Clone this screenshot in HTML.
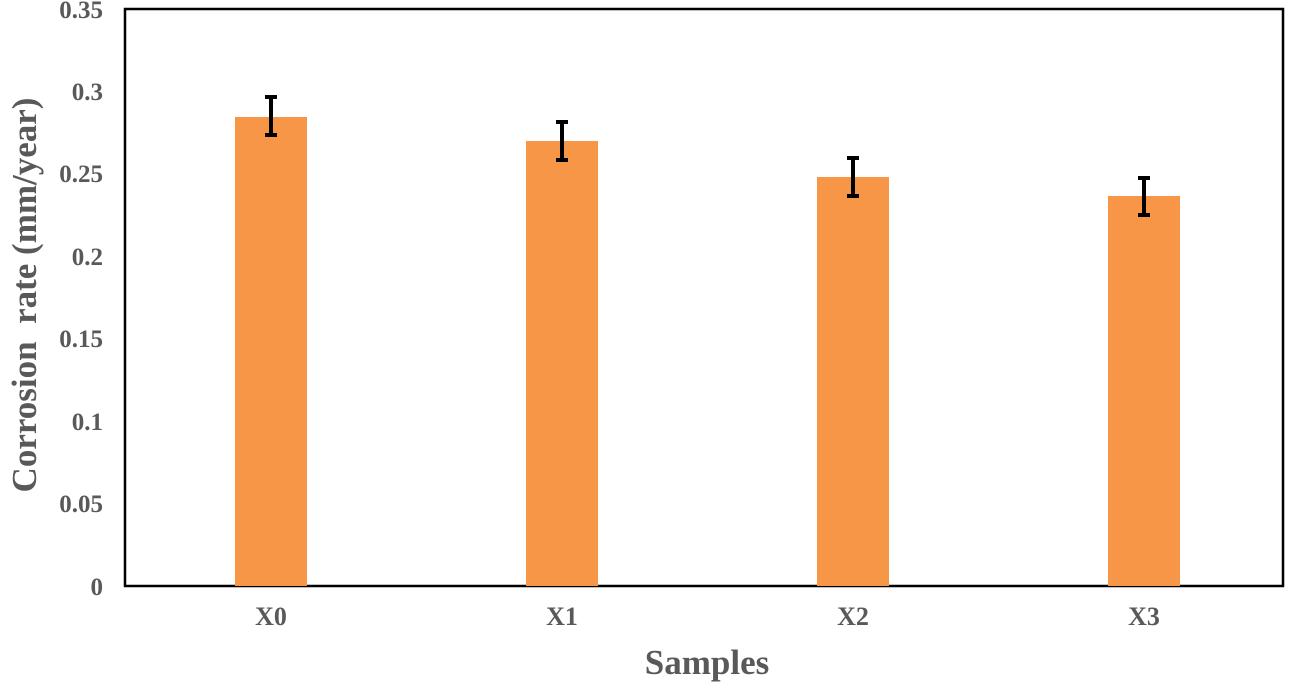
<!DOCTYPE html>
<html><head><style>body{margin:0;background:#fff}</style></head><body>
<svg width="1291" height="682" xmlns="http://www.w3.org/2000/svg" font-family="Liberation Serif, serif" font-weight="bold" fill="#595959">
<rect x="125" y="9" width="1158" height="577" fill="none" stroke="#000" stroke-width="2.5"/>
<g fill="#F79646">
<rect x="235" y="117" width="72" height="469"/>
<rect x="526" y="141" width="72" height="445"/>
<rect x="817" y="177" width="72" height="409"/>
<rect x="1108" y="196" width="72" height="390"/>
</g>
<g stroke="#000" stroke-width="4" fill="none">
<path d="M271 97V135M265 97H277M265 135H277"/>
<path d="M562 122V160M556 122H568M556 160H568"/>
<path d="M853 158V196M847 158H859M847 196H859"/>
<path d="M1144 178V215M1138 178H1150M1138 215H1150"/>
</g>
<g font-size="25" text-anchor="end">
<text x="103" y="595">0</text>
<text x="103" y="512">0.05</text>
<text x="103" y="430">0.1</text>
<text x="103" y="347">0.15</text>
<text x="103" y="265">0.2</text>
<text x="103" y="182">0.25</text>
<text x="103" y="100">0.3</text>
<text x="103" y="18">0.35</text>
</g>
<g font-size="26" text-anchor="middle">
<text x="271" y="625">X0</text>
<text x="562" y="625">X1</text>
<text x="853" y="625">X2</text>
<text x="1144" y="625">X3</text>
</g>
<text x="707" y="674" font-size="35" text-anchor="middle">Samples</text>
<text transform="translate(36,295) rotate(-90)" font-size="35" text-anchor="middle" xml:space="preserve">Corrosion  rate (mm/year)</text>
</svg>
</body></html>
